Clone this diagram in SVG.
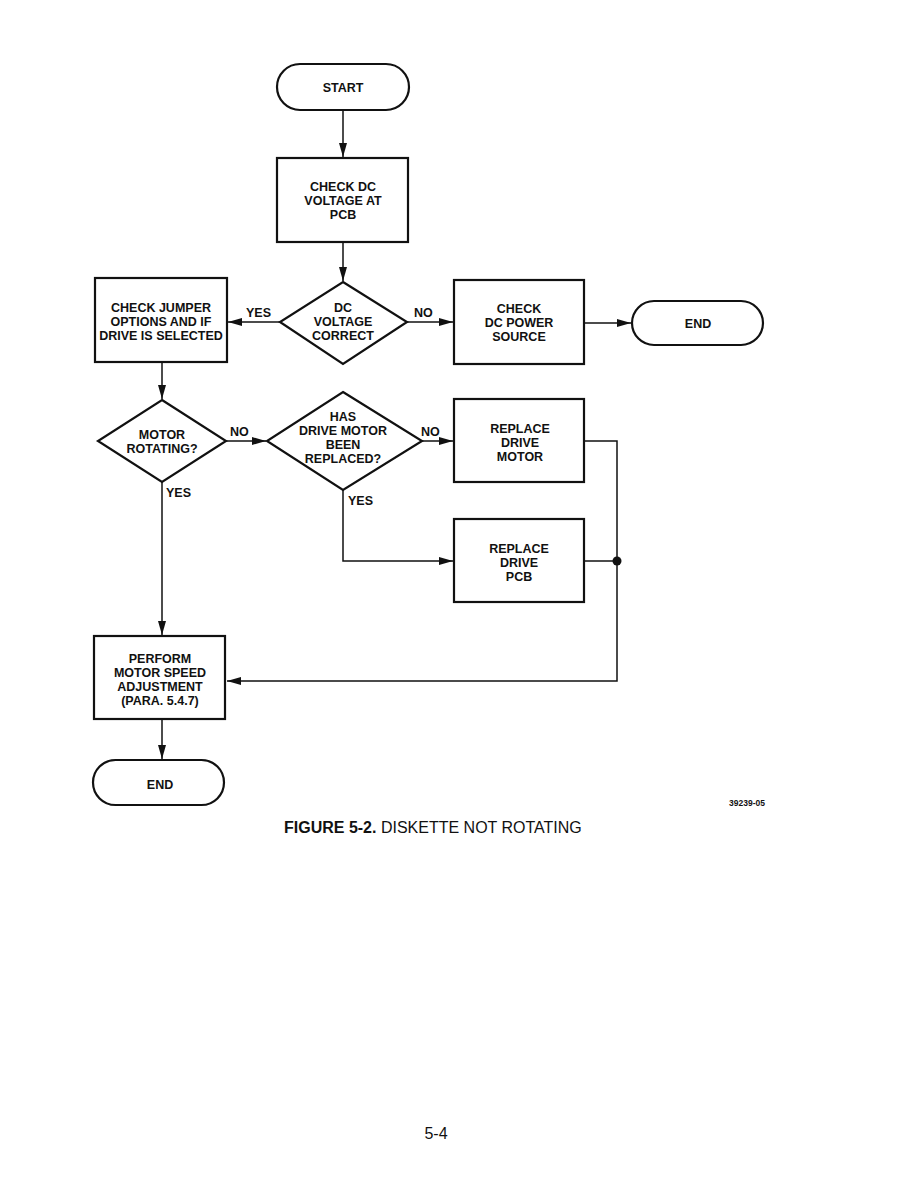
<svg xmlns="http://www.w3.org/2000/svg" width="918" height="1188" viewBox="0 0 918 1188">
<style>
.n{fill:#fff;stroke:#111;stroke-width:2.2}
.t{font-family:"Liberation Sans",Arial,sans-serif;font-size:12.5px;font-weight:bold;fill:#111;text-anchor:middle}
.l{font-family:"Liberation Sans",Arial,sans-serif;font-size:12.5px;font-weight:bold;fill:#111}
.c{fill:none;stroke:#111;stroke-width:1.5}
</style>
<defs>
<marker id="a" markerWidth="14" markerHeight="8" refX="14" refY="4" orient="auto" markerUnits="userSpaceOnUse">
<path d="M0,0 L14,4 L0,8 Z" fill="#111"/>
</marker>
</defs>
<rect width="918" height="1188" fill="#fff"/>
<g id="connectors">
<line class="c" x1="343" y1="110" x2="343" y2="157" marker-end="url(#a)"/>
<line class="c" x1="343" y1="242" x2="343" y2="281" marker-end="url(#a)"/>
<line class="c" x1="280" y1="322" x2="228" y2="322" marker-end="url(#a)"/>
<line class="c" x1="407" y1="322" x2="453" y2="322" marker-end="url(#a)"/>
<line class="c" x1="584" y1="323" x2="631" y2="323" marker-end="url(#a)"/>
<line class="c" x1="162" y1="362" x2="162" y2="399" marker-end="url(#a)"/>
<line class="c" x1="226" y1="441" x2="266" y2="441" marker-end="url(#a)"/>
<line class="c" x1="422" y1="441" x2="453" y2="441" marker-end="url(#a)"/>
<polyline class="c" points="343,490 343,561 453,561" marker-end="url(#a)"/>
<polyline class="c" points="584,441 617,441 617,681 227,681" marker-end="url(#a)"/>
<line class="c" x1="584" y1="561" x2="617" y2="561"/>
<circle cx="617" cy="561" r="4.5" fill="#111"/>
<line class="c" x1="162" y1="482" x2="162" y2="635" marker-end="url(#a)"/>
<line class="c" x1="162" y1="719" x2="162" y2="759" marker-end="url(#a)"/>
<text class="l" x="246" y="317">YES</text>
<text class="l" x="414" y="317">NO</text>
<text class="l" x="230" y="436">NO</text>
<text class="l" x="421" y="436">NO</text>
<text class="l" x="166" y="497">YES</text>
<text class="l" x="348" y="505">YES</text>
</g>
<g id="start">
<rect class="n" x="277" y="64" width="132" height="46" rx="23"/>
<text class="t" x="343" y="92">START</text>
</g>
<g id="check-dc">
<rect class="n" x="277" y="158" width="131" height="84"/>
<text class="t" x="343" y="191">CHECK DC</text>
<text class="t" x="343" y="205">VOLTAGE AT</text>
<text class="t" x="343" y="219">PCB</text>
</g>
<g id="dc-correct">
<polygon class="n" points="343,282 407,322 343,364 280,322"/>
<text class="t" x="343" y="312">DC</text>
<text class="t" x="343" y="326">VOLTAGE</text>
<text class="t" x="343" y="340">CORRECT</text>
</g>
<g id="check-jumper">
<rect class="n" x="95" y="278" width="132" height="84"/>
<text class="t" x="161" y="312">CHECK JUMPER</text>
<text class="t" x="161" y="326">OPTIONS AND IF</text>
<text class="t" x="161" y="340">DRIVE IS SELECTED</text>
</g>
<g id="check-power">
<rect class="n" x="454" y="280" width="130" height="84"/>
<text class="t" x="519" y="313">CHECK</text>
<text class="t" x="519" y="327">DC POWER</text>
<text class="t" x="519" y="341">SOURCE</text>
</g>
<g id="end1">
<rect class="n" x="632" y="301" width="131" height="44" rx="22"/>
<text class="t" x="698" y="328">END</text>
</g>
<g id="motor-rotating">
<polygon class="n" points="162,400 226,441 162,482 98,441"/>
<text class="t" x="162" y="439">MOTOR</text>
<text class="t" x="162" y="453">ROTATING?</text>
</g>
<g id="motor-replaced">
<polygon class="n" points="343,392 422,441 343,490 267,441"/>
<text class="t" x="343" y="421">HAS</text>
<text class="t" x="343" y="435">DRIVE MOTOR</text>
<text class="t" x="343" y="449">BEEN</text>
<text class="t" x="343" y="463">REPLACED?</text>
</g>
<g id="replace-motor">
<rect class="n" x="454" y="399" width="130" height="83"/>
<text class="t" x="520" y="433">REPLACE</text>
<text class="t" x="520" y="447">DRIVE</text>
<text class="t" x="520" y="461">MOTOR</text>
</g>
<g id="replace-pcb">
<rect class="n" x="454" y="519" width="130" height="83"/>
<text class="t" x="519" y="553">REPLACE</text>
<text class="t" x="519" y="567">DRIVE</text>
<text class="t" x="519" y="581">PCB</text>
</g>
<g id="perform">
<rect class="n" x="94" y="636" width="131" height="83"/>
<text class="t" x="160" y="663">PERFORM</text>
<text class="t" x="160" y="677">MOTOR SPEED</text>
<text class="t" x="160" y="691">ADJUSTMENT</text>
<text class="t" x="160" y="705">(PARA. 5.4.7)</text>
</g>
<g id="end2">
<rect class="n" x="93" y="760" width="131" height="45" rx="22.5"/>
<text class="t" x="160" y="789">END</text>
</g>
<text x="747" y="806" font-family="Liberation Sans, Arial, sans-serif" font-size="8.5" font-weight="bold" text-anchor="middle" fill="#111">39239-05</text>
<text x="284" y="833" font-family="Liberation Sans, Arial, sans-serif" font-size="16" fill="#111"><tspan font-weight="bold">FIGURE 5-2.</tspan> DISKETTE NOT ROTATING</text>
<text x="436" y="1139" font-family="Liberation Sans, Arial, sans-serif" font-size="16" text-anchor="middle" fill="#111">5-4</text>
</svg>
